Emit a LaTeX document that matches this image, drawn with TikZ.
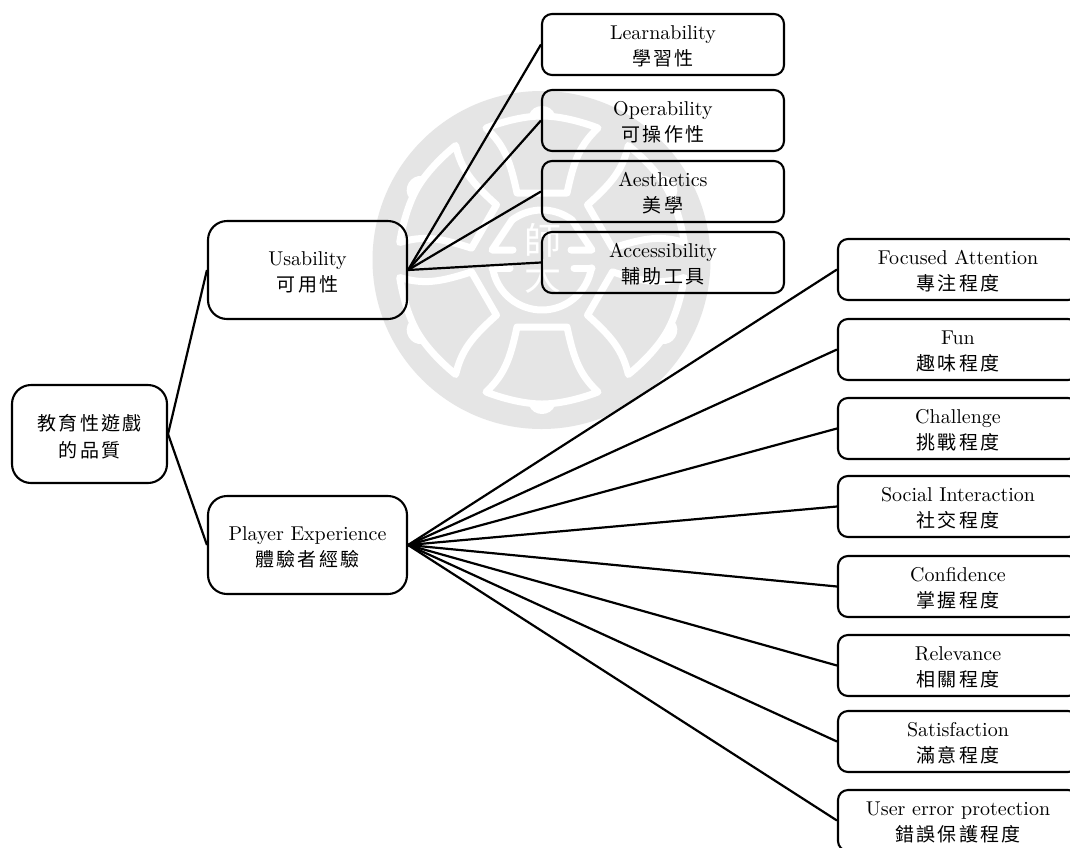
\documentclass[tikz,border=0pt]{standalone}
\usepackage{fontspec}
\setmainfont{lmroman10-regular.otf}
\newfontfamily\cjk[LetterSpace=12]{Noto Sans CJK TC}
\newfontfamily\cjkwm{Noto Sans CJK TC}
\newcommand{\lbl}[2]{\rule{0pt}{18pt}#1\\{\fontsize{19}{26}\cjk #2}}
\newcommand{\bellmark}[1]{%
  \begin{scope}[shift={(542,260)},rotate=#1]
    \draw[wmline] (-25,-67) -- (25,-67) .. controls (32,-100) and (38,-115) .. (56,-132)
      .. controls (35,-140) and (15,-144) .. (0,-144)
      .. controls (-15,-144) and (-35,-140) .. (-56,-132)
      .. controls (-38,-115) and (-32,-100) .. (-25,-67) -- cycle;
    \fill[white] (-13,-145) .. controls (-9,-157) and (9,-157) .. (13,-145) -- cycle;
  \end{scope}}
\tikzset{
  x=1pt,y=-1pt,
  wmline/.style={draw=white,line width=7pt,line join=round,line cap=round},
  link/.style={draw=black,line width=2.2pt},
  box/.style={draw=black,line width=2.1pt,align=center,inner sep=0pt,
    font=\fontsize{20}{26}\selectfont},
  bigbox/.style={box,minimum width=199pt,minimum height=98pt,rounded corners=19pt},
  leafbox/.style={box,minimum width=242pt,minimum height=61pt,rounded corners=10pt},
}
\begin{document}
\begin{tikzpicture}
\path[use as bounding box,clip] (0,0) rectangle (1070,847);
\fill[white] (0,0) rectangle (1070,847);
% watermark
\fill[black!10] (541.5,260) circle (169);
\bellmark{0}\bellmark{60}\bellmark{120}\bellmark{180}\bellmark{240}\bellmark{300}
\draw[wmline] plot[domain=233:307,samples=30] ({542+50*cos(\x)},{260+50*sin(\x)});
\draw[wmline] plot[domain=9:171,samples=40] ({542+50*cos(\x)},{260+50*sin(\x)});
\draw[wmline] (512,220) -- (492,250) -- (513,250);
\draw[wmline] (572,220) -- (592,250) -- (571,250);
\draw[wmline] (492,268) -- (510,268);
\draw[wmline] (592,268) -- (574,268);
\node[font=\cjkwm\fontsize{37}{36}\selectfont,text=white,align=center,inner sep=0pt] (wm) at (543,258) {師\\大};
% nodes
\node[box,minimum width=155pt,minimum height=98pt,rounded corners=19pt] (root) at (89.5,434) {\rule{0pt}{22pt}{\fontsize{19}{26}\cjk 教育性遊戲}\\[1pt]{\fontsize{19}{26}\cjk 的品質}};
\node[bigbox] (usab) at (307.5,270) {\lbl{Usability}{可用性}};
\node[bigbox] (play) at (307.5,545) {\lbl{Player Experience}{體驗者經驗}};
\node[leafbox] (learn) at (663,44.5) {\lbl{Learnability}{學習性}};
\node[leafbox] (oper) at (663,120.5) {\lbl{Operability}{可操作性}};
\node[leafbox] (aest) at (663,191.5) {\lbl{Aesthetics}{美學}};
\node[leafbox] (acc) at (663,262.5) {\lbl{Accessibility}{輔助工具}};
\node[leafbox,minimum width=240pt] (focus) at (958,269.5) {\lbl{Focused Attention}{專注程度}};
\node[leafbox,minimum width=240pt] (fun) at (958,349.5) {\lbl{Fun}{趣味程度}};
\node[leafbox,minimum width=240pt] (chal) at (958,428.5) {\lbl{Challenge}{挑戰程度}};
\node[leafbox,minimum width=240pt] (soc) at (958,506.5) {\lbl{Social Interaction}{社交程度}};
\node[leafbox,minimum width=240pt] (conf) at (958,586.5) {\lbl{Confidence}{掌握程度}};
\node[leafbox,minimum width=240pt] (rel) at (958,665.5) {\lbl{Relevance}{相關程度}};
\node[leafbox,minimum width=240pt] (sat) at (958,741.5) {\lbl{Satisfaction}{滿意程度}};
\node[leafbox,minimum width=240pt] (err) at (958,820.5) {\lbl{User error protection}{錯誤保護程度}};
% connectors
\draw[link] (root.east) -- (usab.west);
\draw[link] (root.east) -- (play.west);
\foreach \t in {learn,oper,aest,acc} \draw[link] (usab.east) -- (\t.west);
\foreach \t in {focus,fun,chal,soc,conf,rel,sat,err} \draw[link] (play.east) -- (\t.west);
\end{tikzpicture}
\end{document}
